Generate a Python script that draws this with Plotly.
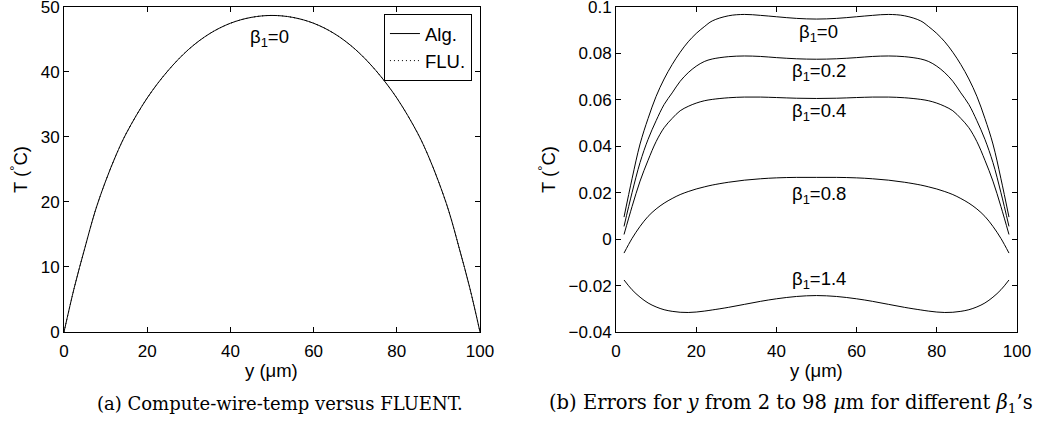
import plotly.graph_objects as go

# ---- (a) wire temperature profile, algebraic solution vs FLUENT ----
y_a = [0, 2.5, 5, 7.5, 10, 12.5, 15, 20, 25, 30, 35, 40, 45, 50,
       55, 60, 65, 70, 75, 80, 85, 87.5, 90, 92.5, 95, 97.5, 100]
t_alg = [0, 6.9, 12.9, 18.6, 23.2, 27.2, 30.6, 36.0, 40.2, 43.5, 45.9, 47.5, 48.4, 48.7,
         48.4, 47.5, 45.9, 43.5, 40.2, 36.0, 30.6, 27.2, 23.2, 18.6, 12.9, 6.9, 0]
t_flu = [0, 6.9, 12.9, 18.6, 23.2, 27.2, 30.6, 36.0, 40.2, 43.5, 45.9, 47.5, 48.4, 48.7,
         48.4, 47.5, 45.9, 43.5, 40.2, 36.0, 30.6, 27.2, 23.2, 18.6, 12.9, 6.9, 0]

# ---- (b) errors for y in [2, 98] um, one curve per beta_1 ----
y_b = [2, 4, 6, 8, 10, 12, 14, 16, 18, 20, 22, 24, 28, 32, 36, 40, 45, 50,
       55, 60, 64, 68, 72, 76, 78, 80, 82, 84, 86, 88, 90, 92, 94, 96, 98]
err_b00 = [0.0095, 0.026, 0.041, 0.052, 0.0615, 0.069, 0.0752, 0.0805, 0.0850, 0.0886,
           0.0915, 0.0940, 0.0962, 0.0968, 0.0964, 0.0958, 0.0951, 0.0948,
           0.0951, 0.0958, 0.0964, 0.0968, 0.0962, 0.0940, 0.0915, 0.0886, 0.0850,
           0.0805, 0.0752, 0.069, 0.0615, 0.052, 0.041, 0.026, 0.0095]
err_b02 = [0.0055, 0.020, 0.033, 0.043, 0.051, 0.058, 0.063, 0.068, 0.0717, 0.0745,
           0.0765, 0.0776, 0.0786, 0.0789, 0.0787, 0.0782, 0.0777, 0.0775,
           0.0777, 0.0782, 0.0787, 0.0789, 0.0786, 0.0776, 0.0765, 0.0745, 0.0717,
           0.068, 0.063, 0.058, 0.051, 0.043, 0.033, 0.020, 0.0055]
err_b04 = [0.002, 0.014, 0.025, 0.034, 0.042, 0.048, 0.052, 0.0553, 0.0572, 0.0586,
           0.0596, 0.0602, 0.0609, 0.0612, 0.0612, 0.0610, 0.0607, 0.0606,
           0.0607, 0.0610, 0.0612, 0.0612, 0.0609, 0.0602, 0.0596, 0.0586, 0.0572,
           0.0553, 0.052, 0.048, 0.042, 0.034, 0.025, 0.014, 0.002]
err_b08 = [-0.006, 0.0003, 0.0055, 0.0098, 0.0130, 0.0155, 0.0175, 0.0192, 0.0205, 0.0216,
           0.0225, 0.0233, 0.0245, 0.0254, 0.0260, 0.0264, 0.0266, 0.0266,
           0.0266, 0.0264, 0.0260, 0.0254, 0.0245, 0.0233, 0.0225, 0.0216, 0.0205,
           0.0192, 0.0175, 0.0155, 0.0130, 0.0098, 0.0055, 0.0003, -0.006]
err_b14 = [-0.0176, -0.0218, -0.0250, -0.0275, -0.0292, -0.0304, -0.0311, -0.0315, -0.0316, -0.0314,
           -0.0310, -0.0305, -0.0294, -0.0281, -0.0268, -0.0257, -0.0247, -0.0243,
           -0.0247, -0.0257, -0.0268, -0.0281, -0.0294, -0.0305, -0.0310, -0.0314, -0.0316,
           -0.0315, -0.0311, -0.0304, -0.0292, -0.0275, -0.0250, -0.0218, -0.0176]

beta_labels = ["0", "0.2", "0.4", "0.8", "1.4"]
beta_label_y = [0.0888, 0.072, 0.0548, 0.019, -0.0177]

ticks_a_x = [0, 20, 40, 60, 80, 100]
ticks_a_y = [0, 10, 20, 30, 40, 50]
ticks_b_y = [-0.04, -0.02, 0, 0.02, 0.04, 0.06, 0.08, 0.1]
ticks_b_text = ["\u22120.04", "\u22120.02", "0", "0.02", "0.04", "0.06", "0.08", "0.1"]

FONT = "Liberation Sans, Arial, sans-serif"
SERIF = "DejaVu Serif, serif"
TICK = 17
LABEL = 18.5

fig = go.Figure()

fig.add_trace(go.Scatter(x=y_a, y=t_alg, mode="lines", name="Alg.",
                         line=dict(color="black", width=1, shape="spline"),
                         xaxis="x", yaxis="y"))
fig.add_trace(go.Scatter(x=y_a, y=t_flu, mode="lines", name="FLU.",
                         line=dict(color="black", width=1, dash="1px,3px", shape="spline"),
                         xaxis="x", yaxis="y"))

for vals in [err_b00, err_b02, err_b04, err_b08, err_b14]:
    fig.add_trace(go.Scatter(x=y_b, y=vals, mode="lines", showlegend=False,
                             line=dict(color="black", width=1, shape="spline"),
                             xaxis="x2", yaxis="y2"))

axis_common = dict(showline=True, linecolor="black", linewidth=1, mirror="ticks",
                   ticks="inside", ticklen=5, tickcolor="black", showgrid=False,
                   zeroline=False, ticklabeloverflow="allow", automargin=False,
                   tickfont=dict(family=FONT, size=TICK, color="black"))

ytitle = dict(text="T (<sup>\u00b0</sup>C)", font=dict(family=FONT, size=LABEL, color="black"), standoff=8)

fig.update_layout(
    width=1040, height=425,
    margin=dict(l=0, r=0, t=0, b=0),
    paper_bgcolor="white", plot_bgcolor="white",
    xaxis=dict(domain=[0.06154, 0.46154], range=[0, 100.0001], tickvals=ticks_a_x,
               anchor="y", ticklabelstandoff=4, **axis_common),
    yaxis=dict(domain=[0.21882, 0.98353], range=[0, 50.0001], tickvals=ticks_a_y,
               anchor="x", title=ytitle, **axis_common),
    xaxis2=dict(domain=[0.59231, 0.97788], range=[0, 100.0001], tickvals=ticks_a_x,
                anchor="y2", ticklabelstandoff=4, **axis_common),
    yaxis2=dict(domain=[0.21882, 0.98353], range=[-0.04, 0.100001], tickvals=ticks_b_y,
                ticktext=ticks_b_text, anchor="x2", title=ytitle, **axis_common),
    legend=dict(x=0.4538, y=0.967, xanchor="right", yanchor="top",
                bgcolor="white", bordercolor="black", borderwidth=1,
                font=dict(family=FONT, size=LABEL, color="black"),
                tracegroupgap=0),
    showlegend=True,
)

# x-axis titles, centred under each panel
for xc in [0.2615, 0.7851]:
    fig.add_annotation(x=xc, y=0.1294, xref="paper", yref="paper", text="y (\u03bcm)",
                       showarrow=False, xanchor="center", yanchor="middle",
                       font=dict(family=FONT, size=LABEL, color="black"))

# beta_1 label on panel (a)
fig.add_annotation(x=49.5, y=45.2, xref="x", yref="y", text="\u03b2<sub>1</sub>=0",
                   showarrow=False, font=dict(family=FONT, size=LABEL, color="black"))

# beta_1 labels on panel (b)
for lab, ly in zip(beta_labels, beta_label_y):
    fig.add_annotation(x=50.5, y=ly, xref="x2", yref="y2",
                       text="\u03b2<sub>1</sub>=" + lab,
                       showarrow=False, font=dict(family=FONT, size=LABEL, color="black"))

# sub-figure captions
fig.add_annotation(x=0.2692, y=0.05, xref="paper", yref="paper",
                   text="(a) Compute-wire-temp versus FLUENT.",
                   showarrow=False, xanchor="center", yanchor="middle",
                   font=dict(family=SERIF, size=18, color="black"))
fig.add_annotation(x=0.526, y=0.05, xref="paper", yref="paper",
                   text="(b) Errors for <i>y</i> from 2 to 98 <i>\u03bc</i>m for different <i>\u03b2</i><sub>1</sub>\u2019s",
                   showarrow=False, xanchor="left", yanchor="middle",
                   font=dict(family=SERIF, size=19.5, color="black"))

fig.write_html("out.html")
